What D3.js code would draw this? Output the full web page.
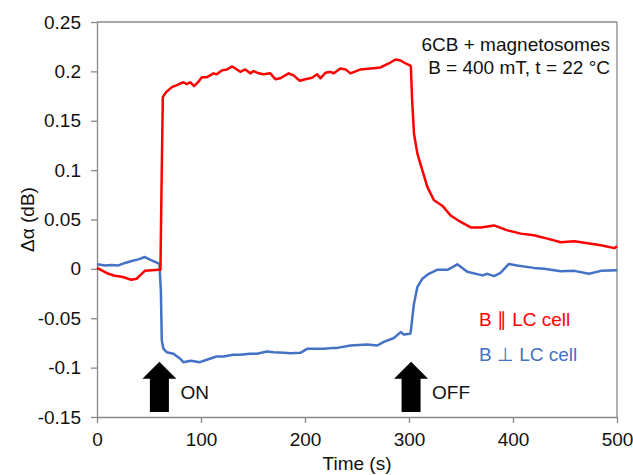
<!DOCTYPE html>
<html>
<head>
<meta charset="utf-8">
<script src="https://cdn.jsdelivr.net/npm/d3@7"></script>
<style>
  body { margin: 0; background: #fff; }
  svg { font-family: "Liberation Sans", Arial, sans-serif; }
</style>
</head>
<body>
<div id="chart"></div>
<script>
// time (s) and delta alpha (dB)
var parTime = [0, 11, 17, 24, 33, 38, 43, 46, 53, 59, 61, 62, 63.3, 66.5, 72, 76.8, 83, 86.4, 89.6, 93.4, 97.6, 100.8, 105.6, 112, 115, 120, 125, 130, 133, 137.8, 142.6, 147.4, 150.6, 155.4, 160.2, 166.7, 171.5, 176.3, 184.3, 189, 195, 200.4, 206.8, 211.7, 214.8, 219.7, 224.5, 227.7, 234, 239, 243.7, 253.4, 263, 272.6, 280.6, 287, 292, 296.7, 300.9, 301.8, 303, 304.8, 308, 312.8, 317.6, 324, 332, 340, 349.7, 359.3, 369, 381.8, 394.6, 407.5, 420, 433, 446, 459, 471.8, 484.6, 497.4, 500];
var parVal = [0.001, -0.005, -0.007, -0.008, -0.011, -0.010, -0.005, -0.002, -0.0015, -0.001, -0.001, 0.08, 0.174, 0.179, 0.184, 0.186, 0.189, 0.187, 0.189, 0.185, 0.1895, 0.194, 0.194, 0.198, 0.197, 0.201, 0.202, 0.205, 0.203, 0.1996, 0.202, 0.198, 0.2003, 0.198, 0.197, 0.198, 0.192, 0.193, 0.198, 0.196, 0.1905, 0.192, 0.1935, 0.197, 0.193, 0.1986, 0.1996, 0.198, 0.203, 0.202, 0.198, 0.202, 0.203, 0.204, 0.208, 0.212, 0.211, 0.208, 0.206, 0.205, 0.171, 0.137, 0.117, 0.100, 0.083, 0.0695, 0.064, 0.054, 0.0475, 0.042, 0.042, 0.044, 0.039, 0.0357, 0.034, 0.0306, 0.027, 0.028, 0.026, 0.024, 0.021, 0.023];

var perTime = [0, 7.7, 14, 20.5, 27, 33.4, 39.8, 46, 51, 55.9, 60, 61.4, 62.3, 63.9, 67, 73.5, 80, 83, 90, 99, 105.6, 115, 121.7, 131, 137.8, 147, 153.8, 163.5, 169.8, 179.5, 186, 195.6, 202, 211.7, 218, 227.7, 231, 243.7, 259.8, 269.5, 275.8, 285.5, 292, 295, 300.9, 301.5, 304.8, 308, 312.8, 319, 327, 337, 346.5, 356, 370.6, 375.4, 381.8, 388, 396, 404, 420, 430, 446, 459, 473, 484.6, 500];
var perVal = [0.0046, 0.0035, 0.004, 0.0035, 0.006, 0.008, 0.0096, 0.012, 0.0093, 0.007, 0.005, -0.022, -0.0725, -0.081, -0.0844, -0.086, -0.091, -0.0945, -0.093, -0.0945, -0.092, -0.0887, -0.0887, -0.087, -0.087, -0.086, -0.086, -0.0837, -0.0844, -0.085, -0.0854, -0.085, -0.081, -0.081, -0.081, -0.080, -0.080, -0.0776, -0.0766, -0.0776, -0.074, -0.070, -0.064, -0.0664, -0.0657, -0.065, -0.035, -0.0185, -0.010, -0.005, -0.001, -0.001, 0.0046, -0.003, -0.0066, -0.005, -0.0073, -0.004, 0.005, 0.0035, 0.001, 0.0002, -0.0025, -0.002, -0.005, -0.002, -0.0015];

var xTicks = [0, 100, 200, 300, 400, 500];
var yTicks = [-0.15, -0.1, -0.05, 0, 0.05, 0.1, 0.15, 0.2, 0.25];
var arrowTimes = [60, 302];
var arrowLabels = ["ON", "OFF"];

var width = 633;
var height = 475;
var margin = {left: 97, right: 16, top: 22, bottom: 58};
var axisColor = '#898989';

var svg = d3.select('#chart').append('svg')
      .attr('width', width)
      .attr('height', height);

var xScale = d3.scaleLinear()
      .domain([0, 500])
      .range([margin.left, width - margin.right]);

var yScale = d3.scaleLinear()
      .domain([-0.15, 0.25])
      .range([height - margin.bottom, margin.top]);

// frame: top and right border lines
svg.append('line')
      .attr('x1', xScale(0)).attr('x2', xScale(500))
      .attr('y1', yScale(0.25)).attr('y2', yScale(0.25))
      .attr('stroke', axisColor).attr('stroke-width', 1.3);
svg.append('line')
      .attr('x1', xScale(500)).attr('x2', xScale(500))
      .attr('y1', yScale(0.25)).attr('y2', yScale(-0.15))
      .attr('stroke', axisColor).attr('stroke-width', 1.3);

var xAxis = d3.axisBottom(xScale)
      .tickValues(xTicks)
      .tickSizeInner(6)
      .tickSizeOuter(0)
      .tickPadding(10)
      .tickFormat(d3.format('d'));

var yAxis = d3.axisLeft(yScale)
      .tickValues(yTicks)
      .tickSizeInner(6)
      .tickSizeOuter(0)
      .tickPadding(10)
      .tickFormat(d => d === 0 ? '0' : String(d));

var gx = svg.append('g')
      .attr('transform', 'translate(0,' + yScale(-0.15) + ')')
      .call(xAxis);
var gy = svg.append('g')
      .attr('transform', 'translate(' + xScale(0) + ',0)')
      .call(yAxis);

// style both axes like the original
[gx, gy].forEach(function (g) {
      g.select('.domain').attr('stroke', axisColor).attr('stroke-width', 1.3);
      g.selectAll('.tick line').attr('stroke', axisColor).attr('stroke-width', 1.3);
      g.selectAll('.tick text')
            .attr('fill', '#111')
            .style('font-size', '19px')
            .style('font-family', '"Liberation Sans", Arial, sans-serif');
});

// data lines
var line = d3.line()
      .x(d => xScale(d[0]))
      .y(d => yScale(d[1]));

svg.append('path')
      .datum(perTime.map((t, i) => [t, perVal[i]]))
      .attr('d', line)
      .attr('fill', 'none')
      .attr('stroke', '#4472C4')
      .attr('stroke-width', 2.5)
      .attr('stroke-linejoin', 'round');

svg.append('path')
      .datum(parTime.map((t, i) => [t, parVal[i]]))
      .attr('d', line)
      .attr('fill', 'none')
      .attr('stroke', '#FF0000')
      .attr('stroke-width', 2.5)
      .attr('stroke-linejoin', 'round');

// ON / OFF arrows
var tipY = yScale(-0.094);
var baseY = yScale(-0.145);
arrowTimes.forEach(function (t, i) {
      var cx = xScale(t);
      var pts = [
            [cx, tipY],
            [cx + 17, tipY + 17],
            [cx + 9.5, tipY + 17],
            [cx + 9.5, baseY],
            [cx - 9.5, baseY],
            [cx - 9.5, tipY + 17],
            [cx - 17, tipY + 17]
      ];
      svg.append('polygon')
            .attr('points', pts.map(p => p.join(',')).join(' '))
            .attr('fill', '#000');
      svg.append('text')
            .attr('x', cx + 21)
            .attr('y', yScale(-0.1315))
            .style('font-size', '19px')
            .attr('fill', '#111')
            .text(arrowLabels[i]);
});

// annotation
svg.append('text')
      .attr('x', 610)
      .attr('y', 51)
      .style('text-anchor', 'end')
      .style('font-size', '19px')
      .attr('fill', '#111')
      .text('6CB + magnetosomes');
svg.append('text')
      .attr('x', 610)
      .attr('y', 74)
      .style('text-anchor', 'end')
      .style('font-size', '19px')
      .attr('fill', '#111')
      .text('B = 400 mT, t = 22 °C');

// legend
svg.append('text')
      .attr('x', 479)
      .attr('y', 326)
      .style('font-size', '19px')
      .attr('fill', '#FF0000')
      .text('B \u2225 LC cell');
svg.append('text')
      .attr('x', 479)
      .attr('y', 361)
      .style('font-size', '19px')
      .attr('fill', '#4472C4')
      .text('B \u22A5 LC cell');

// axis titles
svg.append('text')
      .attr('x', (xScale(0) + xScale(500)) / 2)
      .attr('y', 470)
      .style('text-anchor', 'middle')
      .style('font-size', '19px')
      .attr('fill', '#111')
      .text('Time (s)');

svg.append('text')
      .attr('transform', 'rotate(-90)')
      .attr('x', -(yScale(0.25) + yScale(-0.15)) / 2)
      .attr('y', 34)
      .style('text-anchor', 'middle')
      .style('font-size', '19px')
      .attr('fill', '#111')
      .text('Δα (dB)');
</script>
</body>
</html>
